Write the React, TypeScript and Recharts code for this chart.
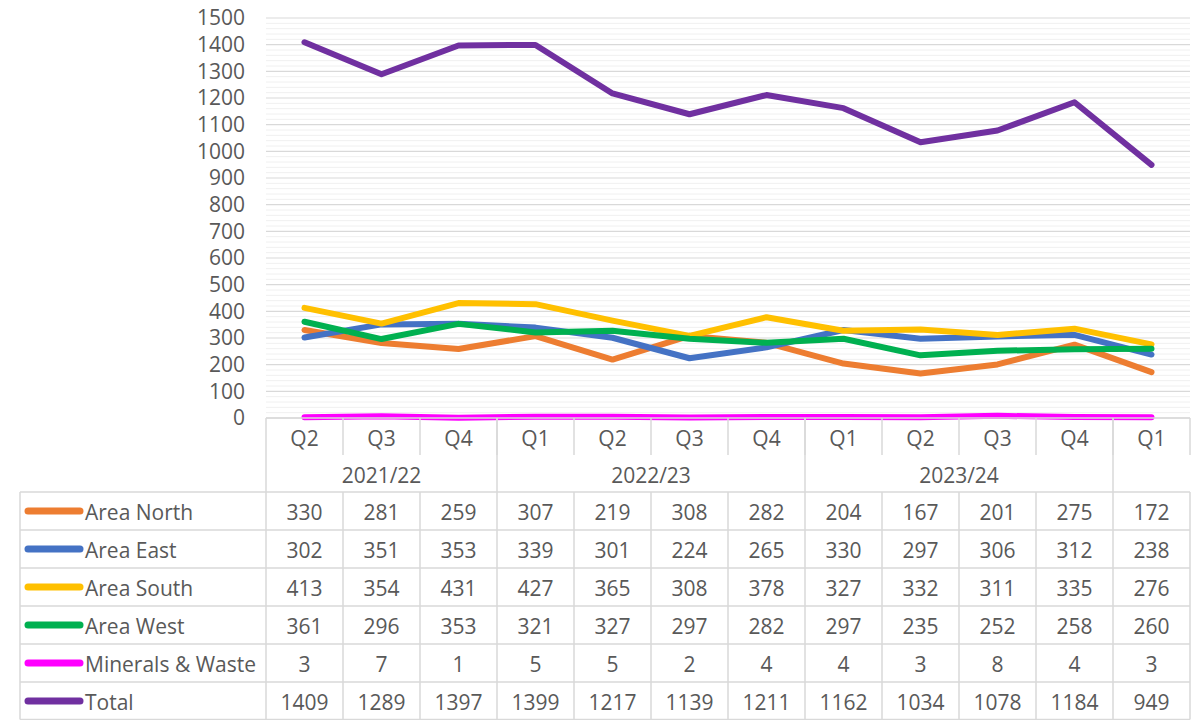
import React from 'react';
import { LineChart, Line, XAxis, YAxis, CartesianGrid } from 'recharts';

const quarters = ['Q2', 'Q3', 'Q4', 'Q1', 'Q2', 'Q3', 'Q4', 'Q1', 'Q2', 'Q3', 'Q4', 'Q1'];
const fiscalYears = ['2021/22', '2021/22', '2021/22', '2022/23', '2022/23', '2022/23', '2022/23', '2023/24', '2023/24', '2023/24', '2023/24', ''];

const areaNorth = [330, 281, 259, 307, 219, 308, 282, 204, 167, 201, 275, 172];
const areaEast = [302, 351, 353, 339, 301, 224, 265, 330, 297, 306, 312, 238];
const areaSouth = [413, 354, 431, 427, 365, 308, 378, 327, 332, 311, 335, 276];
const areaWest = [361, 296, 353, 321, 327, 297, 282, 297, 235, 252, 258, 260];
const mineralsWaste = [3, 7, 1, 5, 5, 2, 4, 4, 3, 8, 4, 3];
const total = [1409, 1289, 1397, 1399, 1217, 1139, 1211, 1162, 1034, 1078, 1184, 949];

const seriesNames = ['Area North', 'Area East', 'Area South', 'Area West', 'Minerals & Waste', 'Total'];
const seriesKeys = ['north', 'east', 'south', 'west', 'minerals', 'total'];
const seriesValues = [areaNorth, areaEast, areaSouth, areaWest, mineralsWaste, total];
const seriesColors = ['#ED7D31', '#4472C4', '#FFC000', '#00B050', '#FF00FF', '#7030A0'];

const yTicks = [0, 100, 200, 300, 400, 500, 600, 700, 800, 900, 1000, 1100, 1200, 1300, 1400, 1500];
const minorTicks: number[] = [];
for (let v = 0; v <= 1500; v += 20) if (v % 100 !== 0) minorTicks.push(v);

const data = quarters.map((q, i) => {
  const row: any = { key: `${fiscalYears[i] || '2024/25'} ${q}` };
  seriesKeys.forEach((k, s) => (row[k] = seriesValues[s][i]));
  return row;
});

// layout
const W = 1198;
const H = 720;
const PLOT_LEFT = 266;
const PLOT_RIGHT = 1190;
const PLOT_TOP = 18;
const PLOT_BOTTOM = 418;
const COL_W = (PLOT_RIGHT - PLOT_LEFT) / quarters.length;
const HEADER_H = 37;
const ROW_H = 38;
const LEGEND_LEFT = 20;
const Y_AXIS_W = 60;
const FONT = "'Open Sans', sans-serif";
const TEXT = '#595959';
const BORDER = '#d9d9d9';
const FS = 21;

function TableTick(props: any) {
  const { x, y } = props;
  const i: number = props.index ?? props.payload?.index ?? 0;
  const top = y;
  const left = x - COL_W / 2;
  const right = x + COL_W / 2;
  const dataTop = top + HEADER_H * 2;
  const bottom = dataTop + ROW_H * seriesNames.length - 0.5;
  const els: any[] = [];

  // quarter label
  els.push(
    <text key="q" x={x} y={top + HEADER_H / 2 + 1} textAnchor="middle" dominantBaseline="central" fill={TEXT} fontSize={FS} fontFamily={FONT}>
      {quarters[i]}
    </text>
  );
  // quarter row right separator
  els.push(<line key="qr" x1={right} x2={right} y1={top} y2={top + HEADER_H} stroke={BORDER} strokeWidth={1.5} />);

  // year group
  const isGroupStart = i === 0 || fiscalYears[i] !== fiscalYears[i - 1];
  if (isGroupStart) {
    let size = 1;
    while (i + size < fiscalYears.length && fiscalYears[i + size] === fiscalYears[i]) size++;
    els.push(<line key="yl" x1={left} x2={left} y1={top} y2={dataTop} stroke={BORDER} strokeWidth={1.5} />);
    if (fiscalYears[i]) {
      els.push(
        <text key="y" x={x + ((size - 1) / 2) * COL_W} y={top + HEADER_H * 1.5 + 1} textAnchor="middle" dominantBaseline="central" fill={TEXT} fontSize={FS} fontFamily={FONT}>
          {fiscalYears[i]}
        </text>
      );
    }
  }

  // data rows
  els.push(<line key="dr" x1={right} x2={right} y1={dataTop} y2={bottom} stroke={BORDER} strokeWidth={1.5} />);
  if (i === 0) els.push(<line key="dl" x1={left} x2={left} y1={dataTop} y2={bottom} stroke={BORDER} strokeWidth={1.5} />);
  for (let r = 0; r <= seriesNames.length; r++) {
    const yy = Math.min(dataTop + r * ROW_H, bottom);
    els.push(<line key={`h${r}`} x1={left} x2={right} y1={yy} y2={yy} stroke={BORDER} strokeWidth={1.5} />);
  }
  seriesValues.forEach((vals, r) => {
    els.push(
      <text key={`v${r}`} x={x} y={dataTop + r * ROW_H + ROW_H / 2 + 1} textAnchor="middle" dominantBaseline="central" fill={TEXT} fontSize={FS} fontFamily={FONT}>
        {vals[i]}
      </text>
    );
  });

  // legend column
  if (i === 0) {
    els.push(<line key="ll" x1={LEGEND_LEFT} x2={LEGEND_LEFT} y1={dataTop} y2={bottom} stroke={BORDER} strokeWidth={1.5} />);
    for (let r = 0; r <= seriesNames.length; r++) {
      const yy = Math.min(dataTop + r * ROW_H, bottom);
      els.push(<line key={`lh${r}`} x1={LEGEND_LEFT} x2={left} y1={yy} y2={yy} stroke={BORDER} strokeWidth={1.5} />);
    }
    seriesNames.forEach((name, r) => {
      const cy = dataTop + r * ROW_H + ROW_H / 2;
      els.push(<line key={`lk${r}`} x1={LEGEND_LEFT + 8} x2={LEGEND_LEFT + 60} y1={cy} y2={cy} stroke={seriesColors[r]} strokeWidth={7} strokeLinecap="round" />);
      els.push(
        <text key={`lt${r}`} x={LEGEND_LEFT + 65} y={cy + 1} textAnchor="start" dominantBaseline="central" fill={TEXT} fontSize={FS} fontFamily={FONT}>
          {name}
        </text>
      );
    });
  }
  return <g>{els}</g>;
}

export default function App() {
  return (
    <div style={{ position: 'absolute', left: 0, top: 0, width: W, height: H, background: '#fff' }}>
      <LineChart
        width={W}
        height={H}
        data={data}
        margin={{ top: PLOT_TOP, right: W - PLOT_RIGHT, bottom: 0, left: PLOT_LEFT - Y_AXIS_W }}
      >
        <CartesianGrid vertical={false} horizontalValues={minorTicks} stroke="#f0f0f0" strokeWidth={1} />
        <CartesianGrid vertical={false} stroke={BORDER} strokeWidth={1.2} />
        <YAxis
          width={Y_AXIS_W}
          domain={[0, 1500]}
          ticks={yTicks}
          interval={0}
          axisLine={false}
          tickLine={false}
          tickSize={0}
          tickMargin={21}
          tick={{ fill: TEXT, fontSize: FS, fontFamily: FONT }}
        />
        <XAxis
          dataKey="key"
          interval={0}
          height={H - PLOT_BOTTOM}
          padding={{ left: COL_W / 2, right: COL_W / 2 }}
          axisLine={{ stroke: BORDER, strokeWidth: 1.5 }}
          tickLine={false}
          tickSize={0}
          tickMargin={0}
          tick={(p: any) => <TableTick {...p} />}
        />
        {seriesKeys.map((k, s) => (
          <Line
            key={k}
            type="linear"
            dataKey={k}
            name={seriesNames[s]}
            stroke={seriesColors[s]}
            strokeWidth={6}
            strokeLinecap="round"
            strokeLinejoin="round"
            dot={false}
            activeDot={false}
            isAnimationActive={false}
          />
        ))}
      </LineChart>
    </div>
  );
}
